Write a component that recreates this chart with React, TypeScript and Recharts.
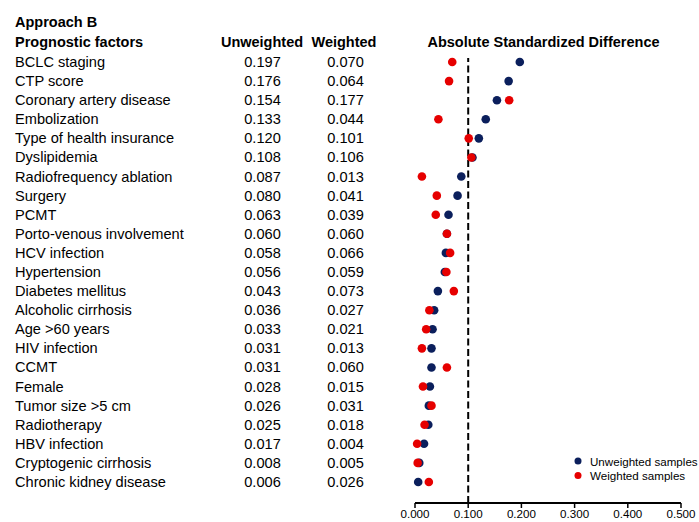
import React from 'react';
import { ScatterChart, Scatter, XAxis, YAxis, ReferenceLine, Customized } from 'recharts';

const factors = [
  'BCLC staging', 'CTP score', 'Coronary artery disease', 'Embolization', 'Type of health insurance',
  'Dyslipidemia', 'Radiofrequency ablation', 'Surgery', 'PCMT', 'Porto-venous involvement',
  'HCV infection', 'Hypertension', 'Diabetes mellitus', 'Alcoholic cirrhosis', 'Age >60 years',
  'HIV infection', 'CCMT', 'Female', 'Tumor size >5 cm', 'Radiotherapy', 'HBV infection',
  'Cryptogenic cirrhosis', 'Chronic kidney disease',
];
const unweighted = [0.197, 0.176, 0.154, 0.133, 0.120, 0.108, 0.087, 0.080, 0.063, 0.060, 0.058, 0.056, 0.043, 0.036, 0.033, 0.031, 0.031, 0.028, 0.026, 0.025, 0.017, 0.008, 0.006];
const weighted = [0.070, 0.064, 0.177, 0.044, 0.101, 0.106, 0.013, 0.041, 0.039, 0.060, 0.066, 0.059, 0.073, 0.027, 0.021, 0.013, 0.060, 0.015, 0.031, 0.018, 0.004, 0.005, 0.026];
const xTicks = [0, 0.1, 0.2, 0.3, 0.4, 0.5];
const rowIndex = factors.map((_, i) => i);

const NAVY = '#0b1f5c';
const RED = '#e60000';
const FONT = 'Liberation Sans, Arial, sans-serif';

const unwData = unweighted.map((v, i) => ({ x: v, y: i }));
const wData = weighted.map((v, i) => ({ x: v, y: i }));

const Dot = (props: any) => {
  const { cx, cy, fill } = props;
  return <circle cx={cx} cy={cy} r={4.3} fill={fill} />;
};

const RowTick = (props: any) => {
  const { y, payload } = props;
  const i = payload.value;
  return (
    <g fontFamily={FONT} fontSize={14.6} fill="#000">
      <text x={15} y={y + 5}>{factors[i]}</text>
      <text x={262.5} y={y + 5} textAnchor="middle">{unweighted[i].toFixed(3)}</text>
      <text x={345.5} y={y + 5} textAnchor="middle">{weighted[i].toFixed(3)}</text>
    </g>
  );
};

const Headers = () => (
  <g fontFamily={FONT} fontSize={14.5} fontWeight="bold" fill="#000">
    <text x={15} y={27}>Approach B</text>
    <text x={15} y={47}>Prognostic factors</text>
    <text x={262} y={47} textAnchor="middle">Unweighted</text>
    <text x={344} y={47} textAnchor="middle">Weighted</text>
    <text x={543.5} y={47} textAnchor="middle">Absolute Standardized Difference</text>
    <g fontWeight="normal" fontSize={11.6}>
      <circle cx={578} cy={461} r={3.5} fill={NAVY} />
      <text x={590} y={465.5}>Unweighted samples</text>
      <circle cx={578} cy={475.5} r={3.5} fill={RED} />
      <text x={590} y={480}>Weighted samples</text>
    </g>
  </g>
);

export default function App() {
  return (
    <div style={{ position: 'absolute', left: 0, top: 0, background: '#fff' }}>
      <ScatterChart width={699} height={522} margin={{ top: 58, right: 18, bottom: 0, left: 15 }}>
        <XAxis
          type="number"
          dataKey="x"
          domain={[0, 0.5]}
          ticks={xTicks}
          tickFormatter={(v: number) => v.toFixed(3)}
          axisLine={{ stroke: '#000', strokeWidth: 1.8 }}
          tickLine={{ stroke: '#000', strokeWidth: 1.5 }}
          tickSize={5}
          tick={{ fill: '#000', fontSize: 11.6, fontFamily: FONT }}
          height={19}
          interval={0}
        />
        <YAxis
          type="number"
          dataKey="y"
          domain={[-0.21, 23.1]}
          reversed
          ticks={rowIndex}
          interval={0}
          axisLine={false}
          tickLine={false}
          tick={<RowTick />}
          width={400}
        />
        <ReferenceLine x={0.1} stroke="#000" strokeWidth={2} strokeDasharray="7 3.5" />
        <Scatter name="Unweighted samples" data={unwData} fill={NAVY} shape={<Dot />} isAnimationActive={false} />
        <Scatter name="Weighted samples" data={wData} fill={RED} shape={<Dot />} isAnimationActive={false} />
        <Customized component={Headers} />
      </ScatterChart>
    </div>
  );
}
